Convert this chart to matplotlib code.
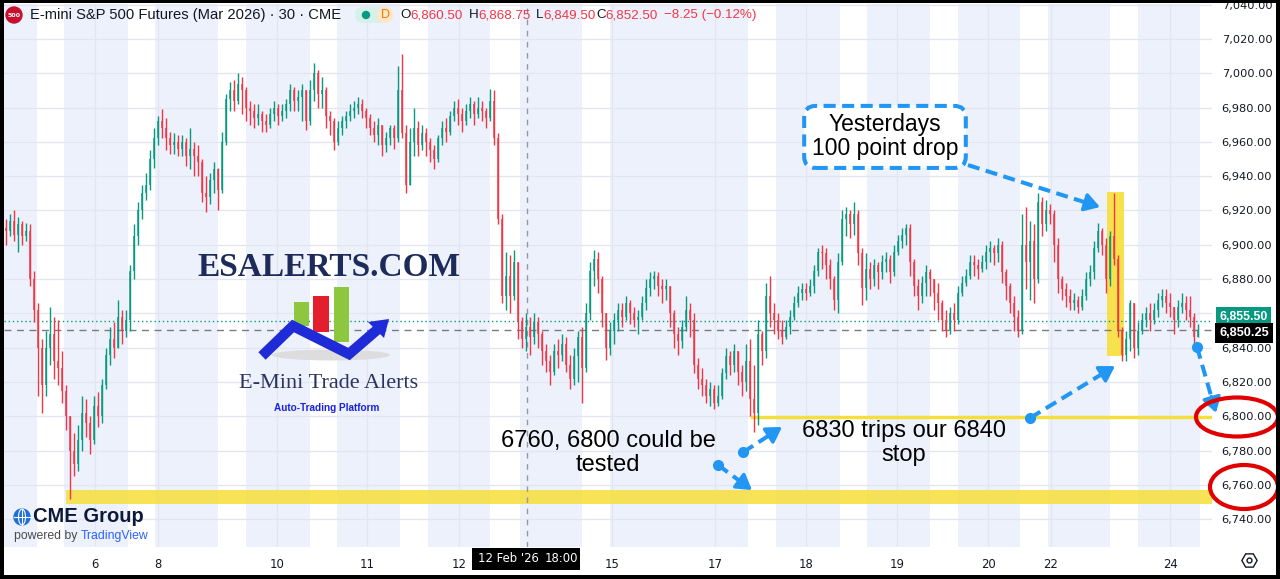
import numpy as np
import matplotlib.pyplot as plt
import matplotlib.transforms as mtransforms
from matplotlib.patches import Rectangle, Ellipse, FancyBboxPatch, Polygon, Circle

# 30 minute bars of E-mini S&P 500 (Mar 2026), oldest first; open = previous close
first_open = 6910
closes = [
    6908, 6914, 6906, 6912, 6905, 6908, 6880, 6862, 6840, 6818,
    6840, 6848, 6832, 6828, 6815, 6800, 6780, 6772, 6786, 6802,
    6796, 6786, 6806, 6800, 6818, 6836, 6845, 6840, 6858, 6850,
    6856, 6885, 6905, 6920, 6930, 6935, 6950, 6962, 6972, 6968,
    6962, 6958, 6960, 6956, 6960, 6952, 6956, 6952, 6948, 6930,
    6928, 6938, 6944, 6932, 6960, 6985, 6990, 6984, 6994, 6990,
    6980, 6978, 6974, 6976, 6972, 6970, 6976, 6980, 6975, 6978,
    6982, 6990, 6984, 6986, 6990, 6972, 6990, 7000, 6988, 6990,
    6975, 6972, 6960, 6968, 6972, 6975, 6978, 6980, 6982, 6978,
    6974, 6968, 6964, 6970, 6958, 6962, 6968, 6962, 6990, 6965,
    6935, 6960, 6968, 6958, 6965, 6960, 6955, 6950, 6962, 6968,
    6966, 6975, 6980, 6976, 6972, 6978, 6982, 6976, 6980, 6978,
    6974, 6984, 6962, 6915, 6870, 6882, 6870, 6890, 6855, 6845,
    6852, 6846, 6855, 6848, 6838, 6832, 6826, 6838, 6836, 6842,
    6830, 6822, 6835, 6846, 6828, 6860, 6885, 6892, 6880, 6860,
    6840, 6850, 6856, 6862, 6858, 6866, 6860, 6856, 6858, 6866,
    6875, 6880, 6882, 6876, 6874, 6876, 6860, 6848, 6844, 6852,
    6862, 6856, 6830, 6822, 6818, 6812, 6816, 6808, 6812, 6825,
    6835, 6830, 6838, 6826, 6820, 6832, 6810, 6802, 6848, 6838,
    6870, 6860, 6856, 6850, 6846, 6852, 6858, 6866, 6872, 6874,
    6872, 6876, 6885, 6896, 6895, 6888, 6880, 6868, 6890, 6915,
    6918, 6912, 6918, 6895, 6875, 6886, 6880, 6888, 6884, 6890,
    6892, 6884, 6896, 6902, 6906, 6910, 6890, 6876, 6870, 6878,
    6884, 6880, 6872, 6866, 6856, 6850, 6860, 6856, 6872, 6878,
    6882, 6890, 6888, 6886, 6890, 6896, 6898, 6895, 6900, 6884,
    6876, 6866, 6858, 6850, 6900, 6890, 6902, 6880, 6925, 6912,
    6920, 6918, 6900, 6880, 6874, 6870, 6866, 6868, 6864, 6870,
    6880, 6884, 6898, 6908, 6900, 6880, 6905, 6892, 6850, 6836,
    6845, 6866, 6840, 6850, 6856, 6860, 6856, 6862, 6868, 6870,
    6866, 6864, 6856, 6864, 6866, 6862, 6858, 6846, 6850.25,
]
highs = [
    6915, 6918, 6920, 6916, 6914, 6913, 6912, 6885, 6866, 6845,
    6850, 6864, 6858, 6856, 6838, 6818, 6800, 6790, 6795, 6812,
    6810, 6800, 6812, 6814, 6822, 6840, 6852, 6855, 6868, 6862,
    6862, 6888, 6912, 6925, 6935, 6942, 6955, 6968, 6975, 6979,
    6974, 6966, 6965, 6964, 6964, 6962, 6968, 6960, 6958, 6950,
    6940, 6942, 6948, 6945, 6966, 6988, 6995, 6996, 7000, 6998,
    6992, 6984, 6982, 6982, 6978, 6976, 6980, 6984, 6982, 6982,
    6985, 6994, 6992, 6990, 6994, 6988, 6996, 7006, 7002, 6998,
    6992, 6978, 6974, 6972, 6975, 6978, 6982, 6984, 6986, 6985,
    6980, 6976, 6972, 6974, 6970, 6966, 6970, 6970, 7004, 7011,
    6970, 6968, 6980, 6972, 6970, 6968, 6962, 6958, 6964, 6972,
    6974, 6978, 6984, 6985, 6980, 6982, 6986, 6984, 6986, 6984,
    6980, 6991, 6990, 6965, 6918, 6896, 6894, 6897, 6890, 6858,
    6860, 6858, 6860, 6858, 6850, 6842, 6836, 6842, 6845, 6848,
    6846, 6836, 6840, 6850, 6852, 6866, 6890, 6897, 6896, 6882,
    6860, 6855, 6860, 6866, 6866, 6870, 6868, 6864, 6862, 6870,
    6880, 6884, 6885, 6884, 6880, 6880, 6876, 6862, 6852, 6856,
    6870, 6866, 6860, 6834, 6828, 6822, 6820, 6818, 6818, 6828,
    6840, 6838, 6842, 6838, 6830, 6842, 6845, 6830, 6856, 6850,
    6878, 6882, 6866, 6860, 6856, 6856, 6862, 6870, 6876, 6878,
    6878, 6880, 6888, 6898, 6900, 6898, 6892, 6882, 6895, 6920,
    6922, 6920, 6925, 6920, 6898, 6895, 6890, 6892, 6890, 6894,
    6896, 6894, 6900, 6906, 6910, 6912, 6912, 6892, 6880, 6882,
    6888, 6886, 6880, 6878, 6868, 6862, 6864, 6866, 6876, 6882,
    6886, 6894, 6894, 6892, 6894, 6900, 6902, 6900, 6904, 6902,
    6886, 6878, 6870, 6862, 6918, 6922, 6914, 6912, 6930, 6928,
    6926, 6924, 6920, 6904, 6882, 6878, 6874, 6872, 6870, 6874,
    6884, 6888, 6902, 6913, 6910, 6904, 6908, 6930, 6894, 6852,
    6850, 6868, 6862, 6855, 6860, 6864, 6866, 6866, 6872, 6874,
    6874, 6872, 6864, 6868, 6872, 6870, 6870, 6860, 6854,
]
lows = [
    6900, 6905, 6902, 6896, 6900, 6902, 6876, 6855, 6812, 6802,
    6812, 6830, 6822, 6818, 6808, 6792, 6752, 6765, 6768, 6780,
    6788, 6778, 6784, 6794, 6796, 6816, 6830, 6834, 6845, 6842,
    6846, 6850, 6880, 6900, 6915, 6926, 6932, 6945, 6958, 6962,
    6955, 6953, 6953, 6952, 6952, 6946, 6944, 6940, 6940, 6925,
    6919, 6924, 6930, 6920, 6930, 6958, 6978, 6978, 6982, 6976,
    6972, 6970, 6968, 6970, 6966, 6966, 6968, 6972, 6970, 6972,
    6974, 6978, 6978, 6978, 6972, 6967, 6970, 6984, 6980, 6980,
    6968, 6964, 6955, 6958, 6964, 6968, 6972, 6974, 6976, 6974,
    6968, 6964, 6960, 6958, 6952, 6954, 6958, 6956, 6960, 6962,
    6930, 6936, 6952, 6952, 6955, 6952, 6948, 6944, 6948, 6958,
    6960, 6964, 6972, 6970, 6966, 6970, 6974, 6970, 6974, 6972,
    6968, 6972, 6958, 6912, 6866, 6862, 6860, 6868, 6845, 6840,
    6838, 6836, 6842, 6840, 6830, 6826, 6818, 6824, 6828, 6832,
    6826, 6816, 6818, 6820, 6808, 6826, 6856, 6876, 6872, 6852,
    6833, 6836, 6842, 6850, 6852, 6856, 6854, 6852, 6848, 6856,
    6862, 6870, 6874, 6870, 6866, 6868, 6852, 6840, 6836, 6840,
    6850, 6846, 6825, 6816, 6812, 6808, 6806, 6804, 6806, 6810,
    6822, 6824, 6826, 6818, 6812, 6815, 6800, 6791, 6795, 6830,
    6834, 6852, 6848, 6845, 6842, 6845, 6848, 6856, 6864, 6868,
    6868, 6870, 6872, 6882, 6886, 6880, 6874, 6862, 6860, 6888,
    6905, 6904, 6906, 6888, 6865, 6868, 6874, 6876, 6874, 6880,
    6884, 6878, 6882, 6894, 6898, 6900, 6882, 6870, 6862, 6866,
    6870, 6870, 6862, 6856, 6850, 6846, 6848, 6850, 6854, 6870,
    6876, 6880, 6882, 6880, 6884, 6886, 6890, 6888, 6890, 6878,
    6868, 6860, 6850, 6846, 6848, 6874, 6868, 6866, 6878, 6905,
    6908, 6912, 6890, 6872, 6868, 6864, 6862, 6862, 6860, 6862,
    6868, 6876, 6880, 6896, 6894, 6872, 6876, 6888, 6846, 6832,
    6832, 6838, 6834, 6836, 6848, 6852, 6850, 6854, 6858, 6864,
    6860, 6858, 6848, 6852, 6860, 6856, 6852, 6840, 6846,
]

# x axis: day labels and the bar where each one sits
day_labels = ['6', '8', '10', '11', '12', '15', '17', '18', '19', '20', '22', '24']
day_bars = [22.25, 38, 67.75, 90.25, 113.25, 151.5, 177.25, 200, 222.75, 245.5, 261.25, 291]
# shaded sessions (start bar, end bar)
sessions = [(-1.5, 7.75), (14.5, 30.5), (37.25, 53), (60, 76), (82.75, 98.5),
            (105.5, 121), (128.5, 144), (151, 185.5), (192.5, 208.5),
            (215.25, 231), (238, 253.5), (260.5, 276), (283, 298.5)]
price_ticks = list(range(6740, 7041, 20))
last_price = 6850.25
ask_price = 6855.50
cursor_bar = 130.25

# levels drawn on the chart
support_band = (6749, 6757)
support_start = 15
level_6800 = 6799.6
level_start = 186.5
drop_bars = (275.25, 279.5)
drop_range = (6835, 6931)

GREEN = '#089981'
RED = '#F23645'
BLUE = '#2196F3'
YELLOW = '#F7DF3A'
TXT = '#131722'
ANN = ['Liberation Sans', 'DejaVu Sans']

W, H = 1280, 579
fig = plt.figure(figsize=(W / 100, H / 100), dpi=100)
fig.patch.set_facecolor('white')
ax = fig.add_axes([4 / W, (H - 547) / H, (1212 - 4) / W, (547 - 4) / H])
ax.set_xlim(-0.5, 301.5)
ax.set_ylim(6723.8, 7040.4)

for s in ax.spines.values():
    s.set_visible(False)

# session background
for a, b in sessions:
    ax.axvspan(a, b, color='#EDF1FC', lw=0, zorder=0.2)

ax.set_axisbelow(True)
ax.grid(True, color='#E3E6EE', lw=0.9)

ax.yaxis.tick_right()
ax.set_yticks(price_ticks)
ax.set_yticklabels([f'{p:,.2f}' for p in price_ticks])
ax.tick_params(axis='y', length=0, pad=7, labelsize=8.2, labelcolor=TXT)
ax.set_xticks(day_bars)
ax.set_xticklabels(day_labels)
ax.tick_params(axis='x', length=0, pad=8, labelsize=8.4, labelcolor=TXT)

# yellow highlights
ax.add_patch(Rectangle((support_start, support_band[0]), 301.5 - support_start,
                       support_band[1] - support_band[0], color=YELLOW, alpha=0.85,
                       lw=0, zorder=1))
ax.plot([level_start, 301.5], [level_6800, level_6800], color=YELLOW, lw=2.4, zorder=1)
ax.add_patch(Rectangle((drop_bars[0], drop_range[0]), drop_bars[1] - drop_bars[0],
                       drop_range[1] - drop_range[0], color=YELLOW, alpha=0.9,
                       lw=0, zorder=1))

# candles
closes = np.array(closes, dtype=float)
highs = np.array(highs, dtype=float)
lows = np.array(lows, dtype=float)
opens = np.r_[first_open, closes[:-1]]
idx = np.arange(len(closes))
colors = np.where(closes >= opens, GREEN, RED)
top = np.maximum.reduce([highs, opens, closes])
bot = np.minimum.reduce([lows, opens, closes])
ax.vlines(idx, bot, top, colors=colors, lw=1, zorder=4)
body = np.maximum(np.abs(closes - opens), 0.7)
ax.bar(idx, body, 0.65, bottom=np.minimum(opens, closes), color=colors,
       alpha=0.75, lw=0, zorder=4)

# crosshair and price lines
ax.axvline(cursor_bar, color='#9598A1', lw=1, ls=(0, (4, 4)), zorder=3)
ax.axhline(ask_price, color=GREEN, lw=1, ls=(0, (1, 2)), zorder=3)
ax.axhline(last_price, color='#787B86', lw=1, ls=(0, (5, 4)), zorder=3)

# price scale labels: the last price box sits over the lower half of the green one
trans = mtransforms.blended_transform_factory(ax.transAxes, ax.transData)
ax.text(1.006, ask_price + 2.5, f'{ask_price:,.2f}', transform=trans, va='center', ha='left',
        color='white', fontsize=8.8, family=ANN, fontweight='bold', clip_on=False, zorder=10,
        bbox=dict(boxstyle='square,pad=0.3', fc=GREEN, ec='none'))
ax.text(1.006, last_price - 1.5, f'{last_price:,.2f}', transform=trans, va='center', ha='left',
        color='white', fontsize=9.2, family=ANN, fontweight='bold', clip_on=False, zorder=11,
        bbox=dict(boxstyle='square,pad=0.3', fc='black', ec='none'))


def dashed_arrow(start, end, dot=True):
    p0 = ax.transData.transform(start)
    p1 = ax.transData.transform(end)
    u = (p1 - p0) / np.hypot(*(p1 - p0))
    inv = ax.transData.inverted()
    stop = inv.transform(p1 - u * 12)
    base = inv.transform(p1 - u * 17)
    ax.plot([start[0], stop[0]], [start[1], stop[1]], color=BLUE, lw=2.9,
            ls=(0, (3, 1.6)), dash_capstyle='butt', clip_on=False, zorder=8)
    ax.annotate('', xy=end, xytext=base, annotation_clip=False, zorder=8,
                arrowprops=dict(arrowstyle='-|>,head_length=0.9,head_width=0.55',
                                color=BLUE, lw=2.5, shrinkA=0, shrinkB=0))
    if dot:
        ax.plot(*start, 'o', color=BLUE, ms=7, clip_on=False, zorder=8)


# annotations
ax.text(219.75, 6962.9, 'Yesterdays\n100 point drop', ha='center', va='center',
        fontsize=16.5, family=ANN, color='black', linespacing=1.05, zorder=9,
        bbox=dict(boxstyle='round,pad=0.33,rounding_size=0.5', fc='white', ec=BLUE,
                  lw=2.9, ls=(0, (3, 1.6))))
dashed_arrow((240.5, 6946.5), (273.5, 6922), dot=False)

ax.text(150.5, 6778.5, '6760, 6800 could be\ntested', ha='center', va='center',
        fontsize=17, family=ANN, color='black', linespacing=1.1, zorder=9)
dashed_arrow((184.25, 6779), (194, 6793.8))
dashed_arrow((178, 6771.6), (186.5, 6757))

ax.text(224.5, 6784.4, '6830 trips our 6840\nstop', ha='center', va='center',
        fontsize=17, family=ANN, color='black', linespacing=1.1, zorder=9)
dashed_arrow((256, 6799), (277.25, 6829.3))
dashed_arrow((297.75, 6840.4), (302.5, 6802))

# overlay in pixel units for logos, header and frame
ov = fig.add_axes([0, 0, 1, 1], zorder=20)
ov.set_xlim(0, W)
ov.set_ylim(H, 0)
ov.axis('off')
ov.patch.set_alpha(0)

# header
ov.add_patch(Circle((14, 15), 8, color='#C8102E'))
ov.text(14, 15.5, '500', color='white', fontsize=4.6, fontweight='bold', ha='center', va='center')
ov.text(30, 15, 'E-mini S&P 500 Futures (Mar 2026) · 30 · CME', fontsize=10.6,
        family=ANN, color=TXT, va='center')
ov.add_patch(FancyBboxPatch((355, 7), 36, 16, boxstyle='round,pad=0,rounding_size=8',
                            fc='#D6F0EA', ec='none'))
ov.add_patch(FancyBboxPatch((377, 7), 16, 16, boxstyle='round,pad=0,rounding_size=8',
                            fc='#FFE6C7', ec='none'))
ov.add_patch(Circle((366, 15), 3.5, color=GREEN))
ov.text(385, 15.5, 'D', color='#F57C00', fontsize=9, family=ANN, ha='center', va='center')
ohlc = [('O', '6,860.50', 400), ('H', '6,868.75', 469), ('L', '6,849.50', 536), ('C', '6,852.50', 596)]
for letter, val, x in ohlc:
    t = ov.text(x, 15, letter, fontsize=9.6, family=ANN, color=TXT, va='center')
    ov.annotate(val, xy=(1, 0.5), xycoords=t, va='center', fontsize=9.6,
                family=ANN, color=RED)
ov.text(664, 15, '\u22128.25 (\u22120.12%)', fontsize=9.6, family=ANN, color=RED, va='center')

# ESALERTS logo
ov.text(329, 268, 'ESALERTS.COM', fontsize=24, family=['Liberation Serif', 'DejaVu Serif'],
        color='#1C2B5A', ha='center', va='center', fontweight='bold')
ov.add_patch(Ellipse((331, 355), 118, 11, color='#DDDDDD', lw=0))
ov.add_patch(Rectangle((294, 302), 15, 24, color='#8DC63F', lw=0))
ov.add_patch(Rectangle((313, 296), 16, 36, color='#E31E2D', lw=0))
ov.add_patch(Rectangle((334, 287), 15, 55, color='#8DC63F', lw=0))
ov.plot([262, 293, 349, 378], [356, 326, 354, 329], color='#1F2BD6', lw=7.5,
        solid_joinstyle='miter', solid_capstyle='butt')
ov.add_patch(Polygon([(389, 319), (384, 338), (368, 322)], color='#1F2BD6', lw=0))
ov.text(329, 383, 'E-Mini Trade Alerts', fontsize=16, family=['Liberation Serif', 'DejaVu Serif'],
        color='#2B3360', ha='center', va='center')
ov.text(327, 408, 'Auto-Trading Platform', fontsize=7.2, family=ANN, fontweight='bold',
        color='#1A22DD', ha='center', va='center')

# CME / TradingView mark
ov.add_patch(Circle((22, 517), 8, color='#1E6FD9'))
ov.plot([14, 30], [517, 517], color='white', lw=0.8)
ov.plot([22, 22], [509, 525], color='white', lw=0.8)
ov.add_patch(Ellipse((22, 517), 7, 16, fill=False, ec='white', lw=0.8))
ov.text(33, 517, 'CME Group', fontsize=14.5, family=ANN, fontweight='bold',
        color='#0C1A3A', va='center')
t = ov.text(14, 536, 'powered by ', fontsize=8.8, family=ANN, color='#4A4A4A', va='center')
ov.annotate('TradingView', xy=(1, 0.5), xycoords=t, va='center', fontsize=8.8,
            family=ANN, color='#2962FF')

# circled price levels
ov.add_patch(Ellipse((1237, 417), 82, 39, fill=False, ec='#E00000', lw=3))
ov.add_patch(Ellipse((1244, 487), 68, 44, fill=False, ec='#E00000', lw=3))

# cursor date tooltip
ov.add_patch(Rectangle((472, 548), 108, 22, color='black', lw=0))
ov.text(478, 559, "12 Feb '26", color='white', fontsize=8.4, va='center')
ov.text(545, 559, '18:00', color='white', fontsize=8.4, va='center')

# settings gear
ov.plot([1249], [560], marker='H', ms=11, mfc='none', mec=TXT, mew=1)
ov.plot([1249], [560], marker='o', ms=3.5, mfc='none', mec=TXT, mew=1)

# screenshot frame
for r in [(0, 0, 4, H), (W - 4, 0, 4, H), (0, 0, W, 3), (0, H - 4, W, 4)]:
    ov.add_patch(Rectangle(r[:2], r[2], r[3], color='black', lw=0))

fig.savefig('out.png', dpi=100)
